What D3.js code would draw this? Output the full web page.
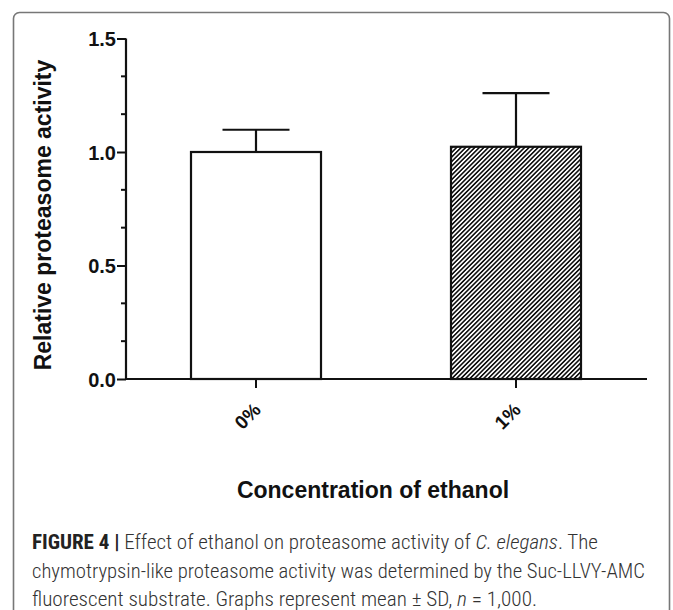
<!DOCTYPE html>
<html><head><meta charset="utf-8">
<script src="https://cdn.jsdelivr.net/npm/d3@7"></script>
<style>body{margin:0;background:#fff}svg{display:block}</style>
</head><body>
<script>
const categories = ["0%", "1%"];
const means = [1.0, 1.023];
const sds = [0.098, 0.236];
const yMajorTicks = [0, 0.5, 1.0, 1.5];
const yTitle = "Relative proteasome activity";
const xTitle = "Concentration of ethanol";

const W = 673, H = 610;
const svg = d3.select("body").append("svg").attr("width", W).attr("height", H);

const defs = svg.append("defs");
const P = 3.2;
const pat = defs.append("pattern").attr("id", "hatch").attr("patternUnits", "userSpaceOnUse")
  .attr("width", P).attr("height", P).attr("patternTransform", "rotate(45)");
pat.append("rect").attr("width", P).attr("height", P).attr("fill", "#fff");
pat.append("line").attr("x1", P/2).attr("y1", 0).attr("x2", P/2).attr("y2", P)
  .attr("stroke", "#111").attr("stroke-width", 1.6);

// border
svg.append("rect").attr("x", 13.5).attr("y", 12.5).attr("width", 656).attr("height", 620)
  .attr("rx", 6).attr("fill", "none").attr("stroke", "#777").attr("stroke-width", 1.6);

const x = d3.scaleBand().domain(categories).range([126, 646]).paddingInner(0.5).paddingOuter(0.25);
const y = d3.scaleLinear().domain([0, 1.5]).range([379, 38.5]);

const g = svg.append("g");
const AF = "Liberation Sans, Arial, sans-serif";

// bars
g.selectAll("rect.bar").data(categories).join("rect").attr("class", "bar")
  .attr("x", d => x(d)).attr("width", x.bandwidth())
  .attr("y", (d, i) => y(means[i])).attr("height", (d, i) => y(0) - y(means[i]))
  .attr("fill", (d, i) => i === 0 ? "#fff" : "url(#hatch)")
  .attr("stroke", "#111").attr("stroke-width", 2.2);

// error bars (upper only)
categories.forEach((c, i) => {
  const cx = x(c) + x.bandwidth() / 2;
  g.append("line").attr("x1", cx).attr("x2", cx).attr("y1", y(means[i])).attr("y2", y(means[i] + sds[i]))
    .attr("stroke", "#111").attr("stroke-width", 2.2);
  g.append("line").attr("x1", cx - x.bandwidth() / 4 - 1).attr("x2", cx + x.bandwidth() / 4 + 1)
    .attr("y1", y(means[i] + sds[i])).attr("y2", y(means[i] + sds[i]))
    .attr("stroke", "#111").attr("stroke-width", 2.2);
});

// y axis
const minorTicks = d3.range(0, 1.5001, 0.5 / 3).filter(v => !yMajorTicks.some(m => Math.abs(m - v) < 1e-6));
const yAxisG = g.append("g").attr("transform", "translate(126,0)");
yAxisG.call(d3.axisLeft(y).tickValues(yMajorTicks).tickFormat(d3.format(".1f")).tickSize(9).tickPadding(1));
yAxisG.append("g").selectAll("line").data(minorTicks).join("line")
  .attr("x1", -5).attr("x2", 0).attr("y1", d => y(d)).attr("y2", d => y(d));
yAxisG.select(".domain").attr("d", `M0,${y(0)}V${y(1.5)}`);
yAxisG.selectAll("line").attr("stroke", "#111").attr("stroke-width", 2);
yAxisG.select(".domain").attr("stroke", "#111").attr("stroke-width", 2.2);
yAxisG.selectAll("text").attr("font-family", AF)
  .attr("font-weight", "bold").attr("font-size", 20).attr("fill", "#111").attr("dy", "0.36em");

// x axis
const xAxisG = g.append("g").attr("transform", `translate(0,${y(0)})`);
xAxisG.call(d3.axisBottom(x).tickSize(9).tickSizeOuter(0));
xAxisG.select(".domain").attr("d", "M126,0H647").attr("stroke", "#111").attr("stroke-width", 2.2);
xAxisG.selectAll(".tick line").attr("stroke", "#111").attr("stroke-width", 2);
xAxisG.selectAll(".tick text")
  .attr("font-family", AF).attr("font-weight", "bold")
  .attr("font-size", 19).attr("fill", "#111")
  .attr("text-anchor", "end").attr("dy", null).attr("y", null)
  .attr("transform", "translate(6,32) rotate(-45)");

// titles
svg.append("text").attr("transform", "translate(51,215) rotate(-90)")
  .attr("text-anchor", "middle").attr("font-family", AF)
  .attr("font-weight", "bold").attr("font-size", 23).attr("fill", "#111").text(yTitle);
svg.append("text").attr("x", 373).attr("y", 498)
  .attr("text-anchor", "middle").attr("font-family", AF)
  .attr("font-weight", "bold").attr("font-size", 23).attr("fill", "#111").text(xTitle);

// caption
const capFont = "'Roboto Condensed', 'Liberation Sans Narrow', Roboto, sans-serif";
const cap = svg.append("g").attr("font-family", capFont).attr("font-size", 20).attr("font-weight", 300).attr("fill", "#333");
const l1 = cap.append("text").attr("x", 32).attr("y", 549).attr("textLength", 566).attr("lengthAdjust", "spacingAndGlyphs");
l1.append("tspan").attr("font-weight", "bold").attr("fill", "#222").text("FIGURE 4 |");
l1.append("tspan").text(" Effect of ethanol on proteasome activity of ");
l1.append("tspan").attr("font-style", "italic").text("C. elegans");
l1.append("tspan").text(". The");
cap.append("text").attr("x", 32).attr("y", 578).attr("textLength", 613).attr("lengthAdjust", "spacingAndGlyphs")
  .text("chymotrypsin-like proteasome activity was determined by the Suc-LLVY-AMC");
const l3 = cap.append("text").attr("x", 32).attr("y", 606).attr("textLength", 505).attr("lengthAdjust", "spacingAndGlyphs");
l3.append("tspan").text("fluorescent substrate. Graphs represent mean \u00B1 SD, ");
l3.append("tspan").attr("font-style", "italic").text("n");
l3.append("tspan").text(" = 1,000.");
</script>
</body></html>
